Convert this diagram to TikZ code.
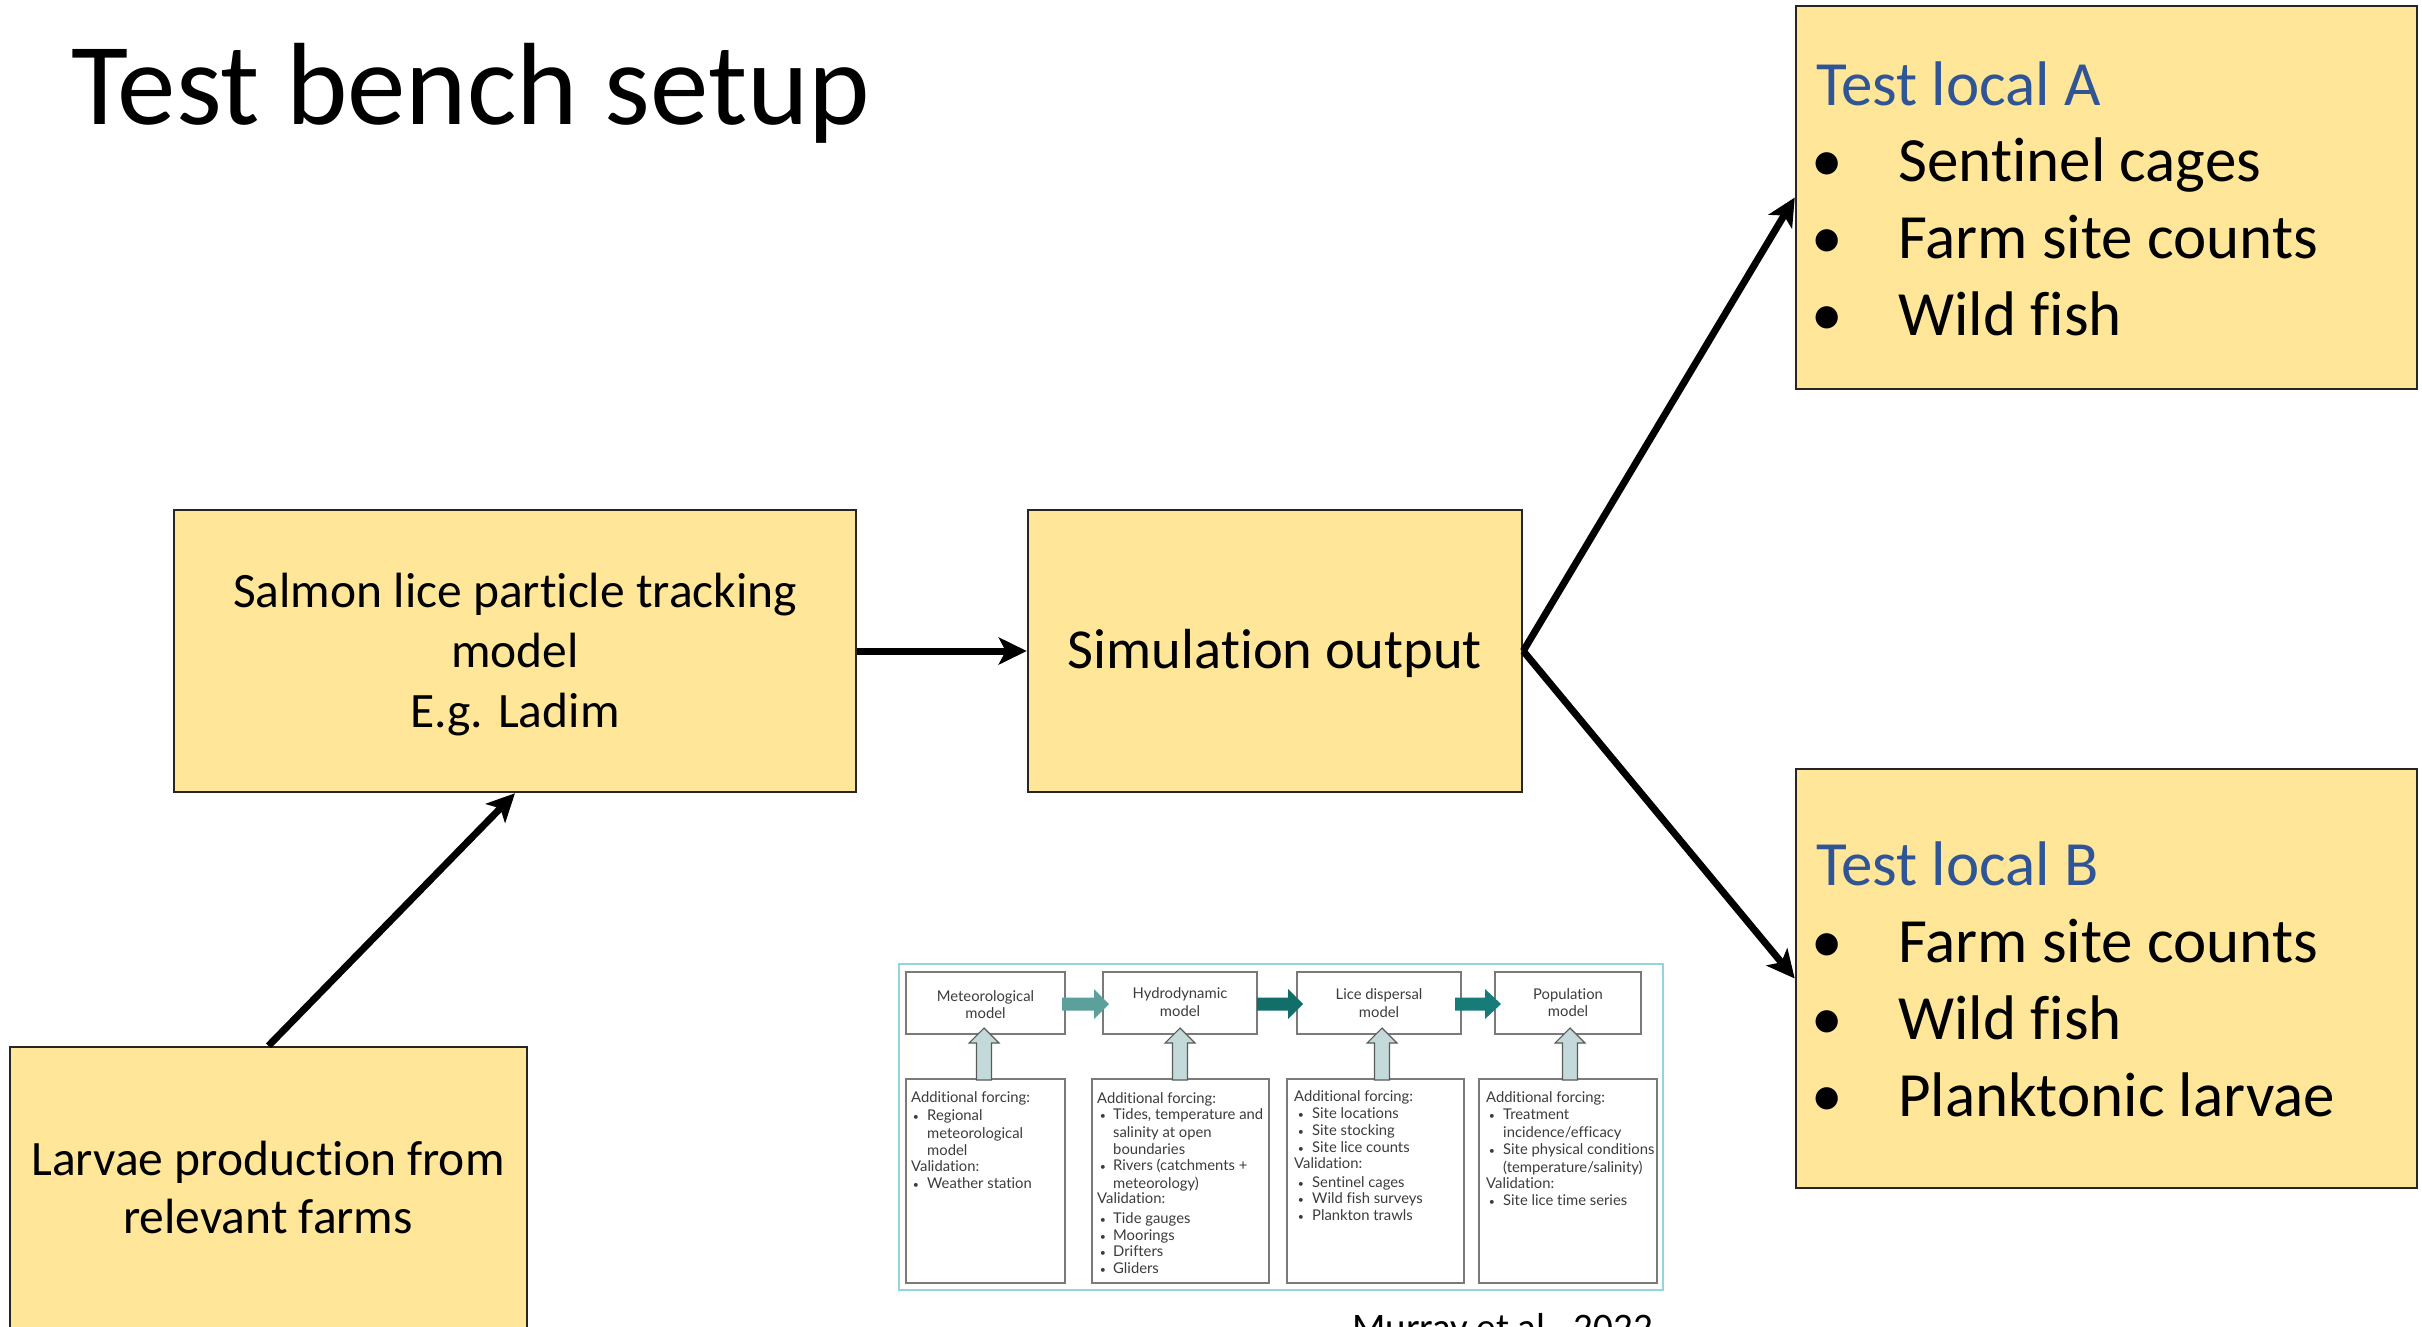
\documentclass[tikz,border=0pt]{standalone}
\usepackage{fontspec}
\setmainfont{Carlito}[Ligatures=NoCommon]
\newfontfamily\figfont{Lato}[Ligatures=NoCommon]
\usetikzlibrary{arrows.meta}

\definecolor{boxfill}{HTML}{FFE699}
\definecolor{boxline}{HTML}{262626}
\definecolor{headblue}{HTML}{2F5597}
\definecolor{framecyan}{HTML}{92D5E0}
\definecolor{figline}{HTML}{7A7A7A}
\definecolor{figtextc}{HTML}{3C3C3C}
\definecolor{tealA}{HTML}{5BA09A}
\definecolor{tealB}{HTML}{126E69}
\definecolor{tealC}{HTML}{177C77}
\definecolor{upfill}{HTML}{C4D9D9}
\definecolor{upline}{HTML}{5A5A5A}

% text lines of the small model-chain figure
\newcommand\figtext[4]{\node[ftxt,anchor=base west] (#1) at (#2,#3) {#4};}
\newcommand\figbullet[5]{%
  \node[ftxt,anchor=base,font=\figfont\fontsize{10.5}{10.5}\selectfont] (#1b) at (#2,#4) {•};
  \node[ftxt,anchor=base west] (#1) at (#3,#4) {#5};}
% a grey block arrow pointing up: centre x, tip y, bottom y
\newcommand\uparrowblock[3]{%
  \filldraw[fill=upfill,draw=upline,line width=1.1pt]
    (#1-7.5,#3) -- (#1-7.5,#2+15) -- (#1-15,#2+15) -- (#1,#2)
    -- (#1+15,#2+15) -- (#1+7.5,#2+15) -- (#1+7.5,#3) -- cycle;}
% a teal block arrow pointing right: colour, start x, head x, tip x
\newcommand\rightblock[4]{%
  \fill[#1] (#2,997.5) -- (#3,997.5) -- (#3,989) -- (#4,1004)
    -- (#3,1019) -- (#3,1010.5) -- (#2,1010.5) -- cycle;}

\tikzset{
  mainbox/.style={draw=boxline,fill=boxfill,line width=2.5pt,inner sep=0pt},
  conn/.style={line width=7pt,-{Stealth[length=28pt,width=27pt,inset=7pt]}},
  boxtxt/.style={inner sep=0pt,anchor=base},
  figbox/.style={draw=figline,fill=white,line width=1.3pt},
  ftxt/.style={inner sep=0pt,text=figtextc,font=\figfont\fontsize{14.8}{17}\selectfont},
}

\begin{document}
\begin{tikzpicture}[x=1pt,y=-1pt]
\useasboundingbox (0,0) rectangle (2422,1326);
\clip (0,0) rectangle (2422,1326);

% title
\node[inner sep=0pt,anchor=base west,font=\fontsize{117}{140}\selectfont] (title) at (71,124) {Test bench setup};

% main boxes
\node[mainbox,minimum width=682pt,minimum height=282pt] (salm) at (515,651) {};
\node[mainbox,minimum width=494pt,minimum height=282pt] (sim) at (1275,651) {};
\node[mainbox,minimum width=621pt,minimum height=383pt] (testA) at (2106.5,197.5) {};
\node[mainbox,minimum width=621pt,minimum height=419pt] (testB) at (2106.5,978.5) {};
\node[mainbox,minimum width=517pt,minimum height=353pt] (larv) at (268.5,1223.5) {};

% box texts
\begin{scope}[every node/.style={boxtxt,font=\fontsize{49.5}{60}\selectfont}]
  \node (salm1) at (515,607) {Salmon lice particle tracking};
  \node (salm2) at (515,667) {model};
  \node (salm3) at (515,727) {E.g. Ladim};
  \node (larv1) at (268,1175) {Larvae production from};
  \node (larv2) at (268,1233) {relevant farms};
\end{scope}
\node[boxtxt,font=\fontsize{56.5}{68}\selectfont] (simtxt) at (1275,668) {Simulation output};

\begin{scope}[every node/.style={inner sep=0pt,font=\fontsize{63}{77}\selectfont}]
  \node[anchor=base west,text=headblue] (headA) at (1816,105) {Test local A};
  \node[anchor=base] (bA1) at (1827,181) {•};
  \node[anchor=base west] (tA1) at (1898,181) {Sentinel cages};
  \node[anchor=base] (bA2) at (1827,258) {•};
  \node[anchor=base west] (tA2) at (1898,258) {Farm site counts};
  \node[anchor=base] (bA3) at (1827,335) {•};
  \node[anchor=base west] (tA3) at (1898,335) {Wild fish};

  \node[anchor=base west,text=headblue] (headB) at (1816,885) {Test local B};
  \node[anchor=base] (bB1) at (1827,962) {•};
  \node[anchor=base west] (tB1) at (1898,962) {Farm site counts};
  \node[anchor=base] (bB2) at (1827,1039) {•};
  \node[anchor=base west] (tB2) at (1898,1039) {Wild fish};
  \node[anchor=base] (bB3) at (1827,1116) {•};
  \node[anchor=base west] (tB3) at (1898,1116) {Planktonic larvae};
\end{scope}

% connectors
\draw[conn] (larv.north) -- (salm.south);
\draw[conn] (salm.east) -- (sim.west);
\draw[conn] (sim.east) -- (testA.west);
\draw[conn] (sim.east) -- (testB.west);

% ---- model chain figure ----
\node[draw=framecyan,line width=2.5pt,fill=white,inner sep=0pt,minimum width=764pt,minimum height=326pt] (frame) at (1281,1127) {};

\node[figbox,minimum width=159pt,minimum height=62pt] (met) at (985.5,1003) {};
\node[figbox,minimum width=154pt,minimum height=62pt] (hyd) at (1180,1003) {};
\node[figbox,minimum width=164pt,minimum height=62pt] (lic) at (1379,1003) {};
\node[figbox,minimum width=146pt,minimum height=62pt] (pop) at (1568,1003) {};

\node[figbox,minimum width=159pt,minimum height=204pt] (metb) at (985.5,1181) {};
\node[figbox,minimum width=177pt,minimum height=204pt] (hydb) at (1180.5,1181) {};
\node[figbox,minimum width=177pt,minimum height=204pt] (licb) at (1375.5,1181) {};
\node[figbox,minimum width=178pt,minimum height=204pt] (popb) at (1568,1181) {};

\rightblock{tealA}{1062}{1094}{1109}
\rightblock{tealB}{1257}{1288}{1303}
\rightblock{tealC}{1455}{1485}{1501}

\uparrowblock{984}{1028}{1080}
\uparrowblock{1180}{1028}{1080}
\uparrowblock{1382}{1028}{1080}
\uparrowblock{1570}{1028}{1080}

\begin{scope}[every node/.style={ftxt,anchor=base}]
  \node (met1) at (985.5,1001) {Meteorological};
  \node (met2) at (985.5,1018) {model};
  \node (hyd1) at (1180,998) {Hydrodynamic};
  \node (hyd2) at (1180,1016) {model};
  \node (lic1) at (1379,999) {Lice dispersal};
  \node (lic2) at (1379,1017) {model};
  \node (pop1) at (1568,999) {Population};
  \node (pop2) at (1568,1016) {model};
\end{scope}

% meteorological model notes
\figtext{mA}{911}{1102}{Additional forcing:}
\figbullet{mB}{916}{927}{1120}{Regional}
\figtext{mC}{927}{1138}{meteorological}
\figtext{mD}{927}{1155}{model}
\figtext{mE}{911}{1171}{Validation:}
\figbullet{mF}{916}{927}{1188}{Weather station}

% hydrodynamic model notes
\figtext{hA}{1097}{1103}{Additional forcing:}
\figbullet{hB}{1103}{1113}{1119}{Tides, temperature and}
\figtext{hC}{1113}{1137}{salinity at open}
\figtext{hD}{1113}{1154}{boundaries}
\figbullet{hE}{1103}{1113}{1170}{Rivers (catchments +}
\figtext{hF}{1113}{1188}{meteorology)}
\figtext{hG}{1097}{1203}{Validation:}
\figbullet{hH}{1103}{1113}{1223}{Tide gauges}
\figbullet{hI}{1103}{1113}{1240}{Moorings}
\figbullet{hJ}{1103}{1113}{1256}{Drifters}
\figbullet{hK}{1103}{1113}{1273}{Gliders}

% lice dispersal model notes
\figtext{lA}{1294}{1101}{Additional forcing:}
\figbullet{lB}{1301}{1312}{1118}{Site locations}
\figbullet{lC}{1301}{1312}{1135}{Site stocking}
\figbullet{lD}{1301}{1312}{1152}{Site lice counts}
\figtext{lE}{1294}{1168}{Validation:}
\figbullet{lF}{1301}{1312}{1187}{Sentinel cages}
\figbullet{lG}{1301}{1312}{1203}{Wild fish surveys}
\figbullet{lH}{1301}{1312}{1220}{Plankton trawls}

% population model notes
\figtext{pA}{1486}{1102}{Additional forcing:}
\figbullet{pB}{1492}{1503}{1119}{Treatment}
\figtext{pC}{1503}{1137}{incidence/efficacy}
\figbullet{pD}{1492}{1503}{1154}{Site physical conditions}
\figtext{pE}{1503}{1172}{(temperature/salinity)}
\figtext{pF}{1486}{1188}{Validation:}
\figbullet{pG}{1492}{1503}{1205}{Site lice time series}

% source reference
\node[inner sep=0pt,anchor=base west,font=\fontsize{39}{47}\selectfont] (cite) at (1352,1340) {Murray et al., 2022};
\end{tikzpicture}
\end{document}
